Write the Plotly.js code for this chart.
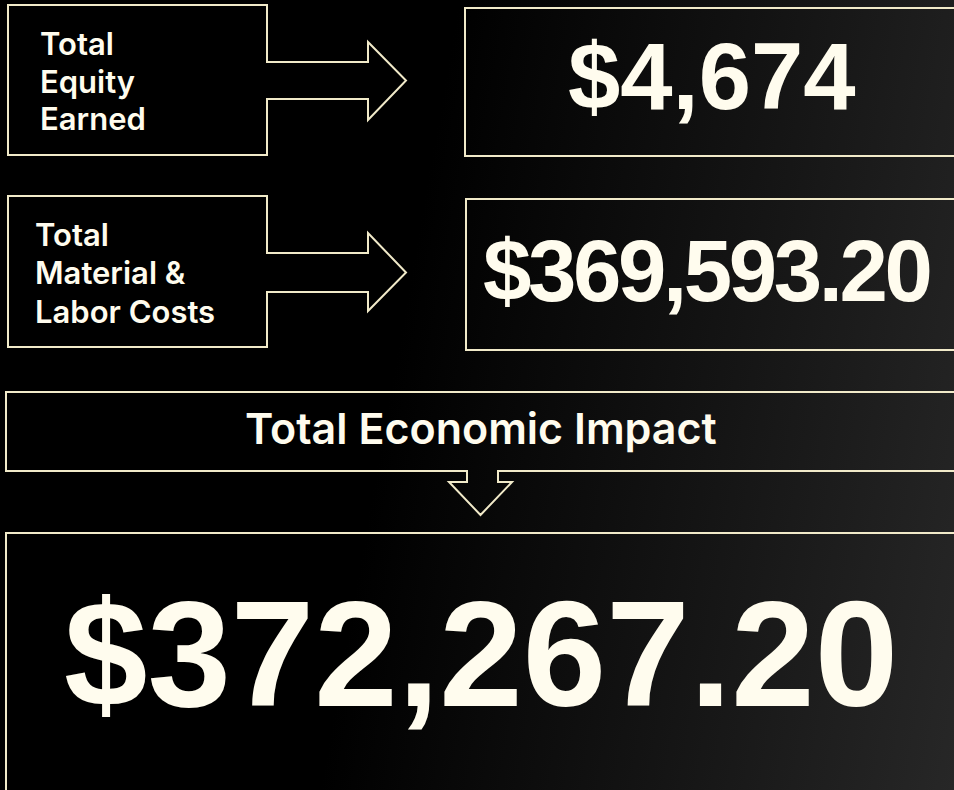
<!DOCTYPE html>
<html>
<head>
<meta charset="utf-8">
<script src="https://cdn.plot.ly/plotly-3.0.1.min.js"></script>
<style>
  html, body { margin: 0; padding: 0; }
  body {
    width: 954px; height: 790px; overflow: hidden;
    background: linear-gradient(100deg, #000000 0%, #000000 42%, #141414 72%, #272727 100%);
  }
  #chart { width: 954px; height: 790px; }
</style>
</head>
<body>
<div id="chart"></div>
<script>
// ---- data ----
const inputLabels = [["Total", "Equity", "Earned"], ["Total", "Material &", "Labor Costs"]];
const inputValues = [4674, 369593.20];
const inputDecimals = [0, 2];
const totalLabel = "Total Economic Impact";
const totalValue = 372267.20;
const totalDecimals = 2;

function fmt(v, d) {
  return "$" + v.toLocaleString("en-US", {minimumFractionDigits: d, maximumFractionDigits: d});
}

const LINE = "#f1eac9";
const TEXT = "#fffcee";
const LABEL_FONT = "Inter, Noto Sans, sans-serif";
const NUM_FONT = "Liberation Sans, Arial, sans-serif";

// layout geometry (pixel space, y down)
const rows = [
  {box: [8, 5, 267, 155], shaft: [62, 99], head: [42, 120], shaftEnd: 368, tip: 406,
   valBox: [465, 8, 960, 156], labelX: 38, baselines: [54, 92, 129],
   valX: 712, valY: 76, valSize: 94, spacing: 0},
  {box: [8, 196, 267, 347], shaft: [253, 292], head: [233, 311], shaftEnd: 368, tip: 406,
   valBox: [466, 199, 960, 350], labelX: 33, baselines: [245, 283, 322],
   valX: 706, valY: 270, valSize: 87, spacing: -3.4}
];

const shapes = [];
const annotations = [];

rows.forEach((r, i) => {
  const [x0, y0, x1, y1] = r.box;
  const mid = (r.shaft[0] + r.shaft[1]) / 2;
  const p = `M${x0},${y0} L${x1},${y0} L${x1},${r.shaft[0]} L${r.shaftEnd},${r.shaft[0]} L${r.shaftEnd},${r.head[0]} ` +
            `L${r.tip},${mid} L${r.shaftEnd},${r.head[1]} L${r.shaftEnd},${r.shaft[1]} L${x1},${r.shaft[1]} L${x1},${y1} L${x0},${y1} Z`;
  shapes.push({type: "path", xref: "x", yref: "y", path: p, line: {color: LINE, width: 2}});
  const vb = r.valBox;
  shapes.push({type: "rect", xref: "x", yref: "y", x0: vb[0], y0: vb[1], x1: vb[2], y1: vb[3], line: {color: LINE, width: 2}});

  inputLabels[i].forEach((line, j) => {
    annotations.push({
      x: r.labelX, y: r.baselines[j] - 11, xref: "x", yref: "y", xanchor: "left", yanchor: "middle", align: "left",
      text: line, showarrow: false,
      font: {family: LABEL_FONT, size: 31, weight: 600, color: TEXT}
    });
  });
  const txt = fmt(inputValues[i], inputDecimals[i]);
  annotations.push({
    x: r.valX, y: r.valY, xref: "x", yref: "y", xanchor: "center", yanchor: "middle",
    text: r.spacing ? `<span style="letter-spacing:${r.spacing}px">${txt}</span>` : txt,
    showarrow: false,
    font: {family: NUM_FONT, size: r.valSize, weight: 700, color: TEXT}
  });
});

// banner with down arrow
shapes.push({type: "path", xref: "x", yref: "y",
  path: "M6,392 L960,392 L960,471 L498,471 L498,482 L512,482 L480.5,515 L449,482 L467,482 L467,471 L6,471 Z",
  line: {color: LINE, width: 2}});
annotations.push({
  x: 480.5, y: 428, xref: "x", yref: "y", xanchor: "center", yanchor: "middle",
  text: totalLabel, showarrow: false,
  font: {family: LABEL_FONT, size: 43, weight: 600, color: TEXT}
});

// big total box
shapes.push({type: "rect", xref: "x", yref: "y", x0: 6, y0: 533, x1: 960, y1: 800, line: {color: LINE, width: 2}});
annotations.push({
  x: 480.5, y: 654, xref: "x", yref: "y", xanchor: "center", yanchor: "middle",
  text: fmt(totalValue, totalDecimals), showarrow: false,
  font: {family: NUM_FONT, size: 150, weight: 700, color: TEXT}
});

const layout = {
  width: 954, height: 790,
  margin: {l: 0, r: 0, t: 0, b: 0, pad: 0},
  paper_bgcolor: "rgba(0,0,0,0)",
  plot_bgcolor: "rgba(0,0,0,0)",
  xaxis: {range: [0, 954], visible: false, fixedrange: true},
  yaxis: {range: [790, 0], visible: false, fixedrange: true},
  showlegend: false,
  shapes: shapes,
  annotations: annotations
};

Plotly.newPlot("chart", [], layout, {staticPlot: true, displayModeBar: false});
</script>
</body>
</html>
